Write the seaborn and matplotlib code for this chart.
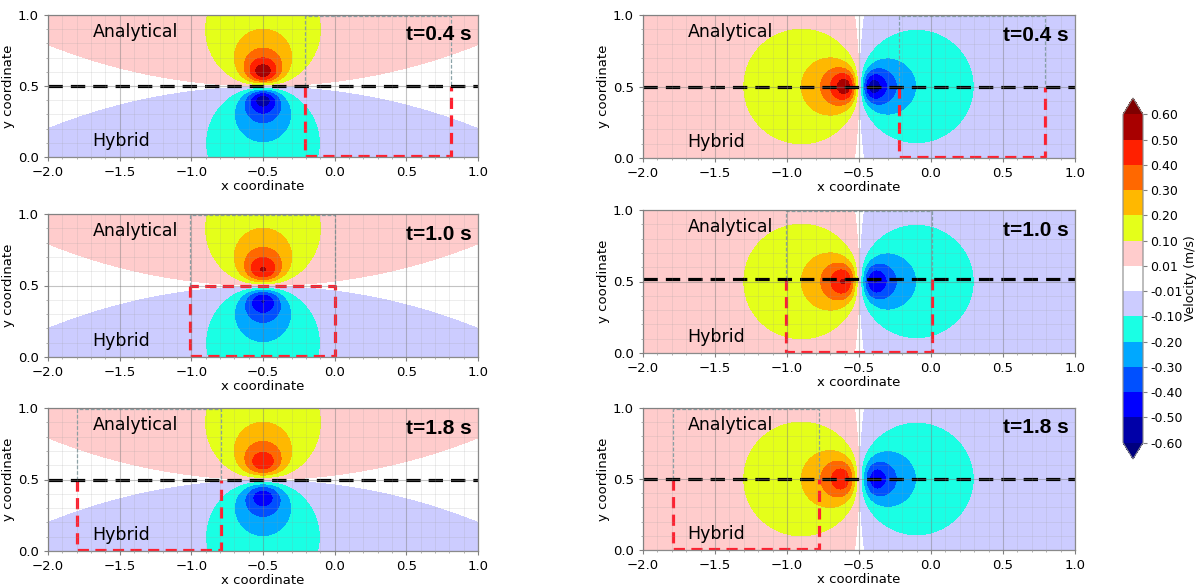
import numpy as np
import matplotlib
matplotlib.use("Agg")
import matplotlib.pyplot as plt
from matplotlib.colors import ListedColormap, BoundaryNorm
from matplotlib.ticker import MultipleLocator
import seaborn as sns

sns.set_style("white")
plt.rcParams['font.family'] = ['DejaVu Sans']
plt.rcParams['text.color'] = 'black'
plt.rcParams['axes.labelcolor'] = 'black'
plt.rcParams['xtick.labelcolor'] = 'black'
plt.rcParams['ytick.labelcolor'] = 'black'

# ---------------- data ----------------
levels = [-0.6, -0.5, -0.4, -0.3, -0.2, -0.1, -0.01, 0.01, 0.1, 0.2, 0.3, 0.4, 0.5, 0.6]
level_labels = ['-0.60', '-0.50', '-0.40', '-0.30', '-0.20', '-0.10', '-0.01',
                '0.01', '0.10', '0.20', '0.30', '0.40', '0.50', '0.60']
band_colors = ['#0000a8', '#0000ff', '#0050ff', '#00a8ff', '#1affe4', '#ccccff', '#ffffff',
               '#ffcccc', '#e4ff1a', '#ffb800', '#ff6800', '#ff2000', '#a80000']
under_color = '#00007f'
over_color = '#7f0000'

time_labels = ['t=0.4 s', 't=1.0 s', 't=1.8 s']
doublet_strength = 0.08          # from radius of the 0.1 m/s circle (~0.4)
doublet_centre = (-0.5, 0.5)
core_radius = [0.091, 0.101, 0.109]  # grows with time (peak value falls)

# interface (black dashed) height per panel: [left column, right column]
interface_y_left = [0.5, None, 0.5]
interface_y_right = [0.5, 0.52, 0.5]
# red "Hybrid" window x extents per time
window_left = [(-0.21, 0.81), (-1.01, 0.0), (-1.80, -0.79)]
window_right = [(-0.22, 0.79), (-1.01, 0.01), (-1.79, -0.78)]
window_top_left = [0.5, 0.5, 0.5]
window_top_right = [0.5, 0.52, 0.5]

# ---------------- figure ----------------
W, H = 1198, 586
fig = plt.figure(figsize=(W / 100, H / 100), dpi=100)

def px_axes(x0, y0, x1, y1):
    return fig.add_axes([x0 / W, 1 - y1 / H, (x1 - x0) / W, (y1 - y0) / H])

left_boxes = [(48, 15, 478, 157), (48, 214, 478, 357), (48, 408, 478, 551)]
right_boxes = [(643, 15, 1075, 158), (643, 210, 1075, 353), (643, 408, 1075, 550)]

cmap = ListedColormap(band_colors)
cmap.set_under(under_color)
cmap.set_over(over_color)
norm = BoundaryNorm(levels, cmap.N)

xg = np.linspace(-2.0, 1.0, 601)
yg = np.linspace(0.0, 1.0, 301)
X, Y = np.meshgrid(xg, yg)
dx = X - doublet_centre[0]
dy = Y - doublet_centre[1]
r2 = dx ** 2 + dy ** 2 + 1e-12


def field(s, delta):
    return doublet_strength * s / r2 * (1 - np.exp(-r2 / delta ** 2))


def style_axes(ax):
    ax.set_xlim(-2.0, 1.0)
    ax.set_ylim(0.0, 1.0)
    ax.set_xticks([-2.0, -1.5, -1.0, -0.5, 0.0, 0.5, 1.0])
    ax.set_yticks([0.0, 0.5, 1.0])
    ax.xaxis.set_minor_locator(MultipleLocator(0.1))
    ax.yaxis.set_minor_locator(MultipleLocator(0.1))
    ax.set_axisbelow(False)
    ax.grid(which='major', color='#7a7a7a', alpha=0.45, lw=0.8)
    ax.grid(which='minor', color='#9a9a9a', alpha=0.2, lw=0.6)
    ax.tick_params(axis='both', which='major', labelsize=9.5, length=3,
                   color='#808080', direction='out', bottom=True, left=True)
    ax.tick_params(axis='both', which='minor', length=1.5, color='#a0a0a0',
                   direction='out', bottom=True, left=True)
    for sp in ax.spines.values():
        sp.set_color('#8a8a8a')
        sp.set_linewidth(0.9)
    ax.set_xlabel('x coordinate', fontsize=9.5, labelpad=1)
    ax.set_ylabel('y coordinate', fontsize=9.5, labelpad=2)


def decorate(ax, t_label, line_y, win, win_top, red_top):
    x0, x1 = win
    thin = dict(color='#7f9aa0', lw=0.9, ls=(0, (3, 1.5)), alpha=0.9)
    ax.plot([x0, x0, x1, x1], [win_top, 0.995, 0.995, win_top], **thin)
    red = dict(color='#ff2030', lw=2.3, ls=(0, (3.5, 2.0)), solid_capstyle='butt')
    if red_top:
        ax.plot([x0, x0, x1, x1, x0], [win_top, 0.005, 0.005, win_top, win_top], **red)
    else:
        ax.plot([x0, x0, x1, x1], [win_top, 0.005, 0.005, win_top], **red)
    if line_y is not None:
        ax.axhline(line_y, color='black', lw=2.3, ls=(0, (4.5, 2.5)))
    ax.text(-1.69, 0.88, 'Analytical', fontsize=12.5, va='center', ha='left', color='black')
    ax.text(-1.69, 0.11, 'Hybrid', fontsize=12.5, va='center', ha='left', color='black')
    ax.text(0.955, 0.86, t_label, fontsize=15, fontweight='bold', va='center',
            ha='right', color='black', family=['Liberation Sans', 'DejaVu Sans'])


cs = None
for i in range(3):
    # left column: doublet with axis vertical
    ax = px_axes(*left_boxes[i])
    Z = field(dy, core_radius[i])
    cs = ax.contourf(X, Y, Z, levels=levels, cmap=cmap, norm=norm, extend='both')
    style_axes(ax)
    decorate(ax, time_labels[i], interface_y_left[i], window_left[i],
             window_top_left[i], interface_y_left[i] is None)

    # right column: doublet with axis horizontal
    ax = px_axes(*right_boxes[i])
    Z = field(-dx, core_radius[i])
    ax.contourf(X, Y, Z, levels=levels, cmap=cmap, norm=norm, extend='both')
    style_axes(ax)
    decorate(ax, time_labels[i], interface_y_right[i], window_right[i],
             window_top_right[i], False)

cax = px_axes(1123, 98, 1143, 459)
cb = fig.colorbar(cs, cax=cax, ticks=levels, spacing='uniform', extend='both',
                  extendfrac=0.05)
cb.set_ticklabels(level_labels)
cb.ax.tick_params(labelsize=9, length=3, color='#808080', pad=2, labelcolor='black')
cb.outline.set_edgecolor('#8a8a8a')
cb.set_label('Velocity (m/s)', fontsize=9, color='black')
cb.ax.yaxis.set_label_coords(3.05, 0.5)

fig.savefig('out.png', dpi=100)
